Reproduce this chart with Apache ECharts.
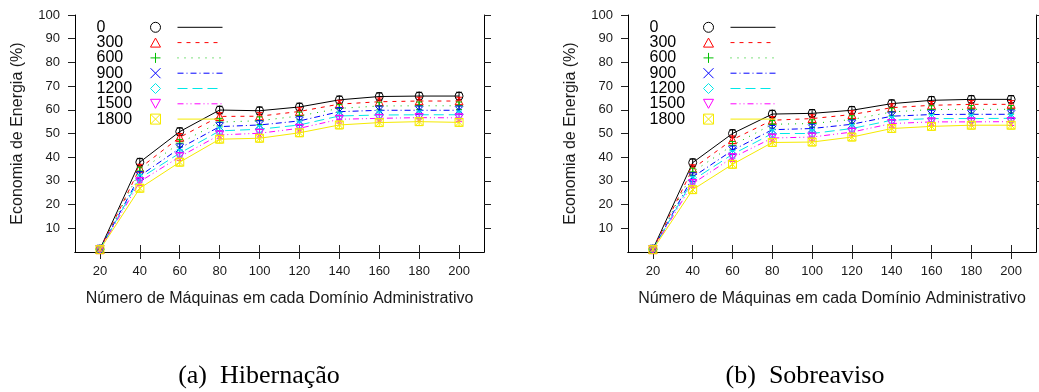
<!DOCTYPE html>
<html>
<head>
<meta charset="utf-8">
<script src="https://cdn.jsdelivr.net/npm/echarts@6/dist/echarts.min.js"></script>
<style>
html,body{margin:0;padding:0;background:#fff;}
#chart{width:1039px;height:392px;}
</style>
</head>
<body>
<div id="chart"></div>
<script>
// ---- data ----
const xValues = [20, 40, 60, 80, 100, 120, 140, 160, 180, 200];
const xTicks = [20, 40, 60, 80, 100, 120, 140, 160, 180, 200];
const yTicks = [10, 20, 30, 40, 50, 60, 70, 80, 90, 100];
const seriesNames = ['0', '300', '600', '900', '1200', '1500', '1800'];

// (a) Hibernação
const hib0    = [1.2, 37.9, 50.8, 59.9, 59.6, 61.2, 64.2, 65.6, 65.8, 65.8];
const hib300  = [1.0, 35.4, 48.4, 57.2, 57.3, 59.3, 62.4, 63.4, 63.7, 63.7];
const hib600  = [1.0, 34.2, 45.9, 54.8, 55.4, 57.4, 60.6, 61.6, 61.7, 61.7];
const hib900  = [1.0, 32.1, 43.8, 52.9, 53.6, 55.3, 59.2, 59.8, 59.8, 59.8];
const hib1200 = [1.0, 31.1, 41.7, 51.1, 51.8, 53.6, 57.4, 57.8, 57.9, 57.9];
const hib1500 = [1.0, 29.7, 40.2, 49.4, 50.1, 52.2, 56.0, 56.4, 56.7, 56.6];
const hib1800 = [1.0, 26.9, 37.9, 47.6, 48.0, 50.3, 53.6, 54.6, 55.0, 54.7];

// (b) Sobreaviso
const sob0    = [1.2, 37.7, 50.0, 58.2, 58.5, 59.8, 62.6, 64.0, 64.4, 64.4];
const sob300  = [1.0, 35.2, 47.4, 55.6, 56.3, 58.0, 60.9, 61.9, 62.3, 62.3];
const sob600  = [1.0, 33.8, 45.0, 53.9, 54.2, 55.9, 59.1, 60.1, 60.2, 60.2];
const sob900  = [1.0, 31.6, 42.9, 51.6, 52.1, 53.9, 57.3, 58.0, 58.1, 58.1];
const sob1200 = [1.0, 30.3, 41.2, 50.0, 50.0, 52.1, 55.6, 56.3, 56.3, 56.4];
const sob1500 = [1.0, 28.9, 39.8, 48.1, 48.5, 50.6, 54.2, 54.9, 54.9, 55.0];
const sob1800 = [1.0, 26.3, 37.0, 46.2, 46.4, 48.5, 52.1, 53.0, 53.5, 53.5];

// estimated error-bar half widths (per series)
const errorHalf = [1.6, 1.6, 1.6, 1.8, 1.6, 1.6, 1.6];

const xTitle = 'Número de Máquinas em cada Domínio Administrativo';
const yTitle = 'Economia de Energia (%)';
const captions = ['(a)  Hibernação', '(b)  Sobreaviso'];

// ---- styles ----
const colors = ['#000000', '#ff0000', '#00c000', '#0000ff', '#00e8e8', '#ff00ff', '#f5ea00'];
const dashes = ['solid', [4, 5], [1, 6], [6, 3, 1, 3], [10, 5], [6, 3, 1, 3, 1, 3], 'solid'];
const symbols = [
  'path://M10,5A5,5,0,1,1,0,5A5,5,0,1,1,10,5Z',
  'path://M5,0L10,9L0,9Z',
  'path://M5,0V10M0,5H10',
  'path://M0,0L10,10M10,0L0,10',
  'path://M5,0L10,5L5,10L0,5Z',
  'path://M0,0L10,0L5,9Z',
  'path://M0,0H10V10H0ZM0,0L10,10M10,0L0,10'
];
const FONT = 'Liberation Sans, Arial, Helvetica, sans-serif';

const grids = [
  {left: 75, top: 15, width: 409, height: 237},
  {left: 628, top: 15, width: 408, height: 237}
];

const chartData = [
  [hib0, hib300, hib600, hib900, hib1200, hib1500, hib1800],
  [sob0, sob300, sob600, sob900, sob1200, sob1500, sob1800]
];

function errRender(color) {
  return function (params, api) {
    const x = api.value(0), y = api.value(1), e = api.value(2);
    const lo = api.coord([x, y - e]);
    const hi = api.coord([x, y + e]);
    const w = 3;
    const st = {stroke: color, lineWidth: 1};
    return {
      type: 'group',
      children: [
        {type: 'line', shape: {x1: lo[0], y1: lo[1], x2: hi[0], y2: hi[1]}, style: st},
        {type: 'line', shape: {x1: lo[0] - w, y1: lo[1], x2: lo[0] + w, y2: lo[1]}, style: st},
        {type: 'line', shape: {x1: hi[0] - w, y1: hi[1], x2: hi[0] + w, y2: hi[1]}, style: st}
      ]
    };
  };
}

const xAxes = [], yAxes = [], series = [], legends = [];
grids.forEach((g, gi) => {
  xAxes.push({
    type: 'value', gridIndex: gi, position: 'bottom', min: 7.5, max: 212.5,
    axisLine: {show: true, lineStyle: {color: '#000', width: 1}},
    axisTick: {show: true, customValues: xTicks, length: 7, lineStyle: {color: '#222'}},
    axisLabel: {customValues: xTicks, fontSize: 13, color: '#1a1a1a', fontFamily: FONT, margin: 13},
    splitLine: {show: false},
    name: xTitle, nameLocation: 'middle', nameGap: 39,
    nameTextStyle: {fontSize: 16, color: '#1a1a1a', fontFamily: FONT}
  });
  xAxes.push({
    type: 'value', gridIndex: gi, position: 'top', min: 7.5, max: 212.5,
    axisLine: {show: true, lineStyle: {color: '#000', width: 1}},
    axisTick: {show: true, customValues: xTicks, length: 7, lineStyle: {color: '#222'}},
    axisLabel: {show: false},
    splitLine: {show: false}
  });
  yAxes.push({
    type: 'value', gridIndex: gi, position: 'left', min: 0, max: 100, interval: 10,
    axisLine: {show: true, lineStyle: {color: '#000', width: 1}},
    axisTick: {show: true, customValues: yTicks, length: 7, lineStyle: {color: '#222'}},
    axisLabel: {customValues: yTicks, fontSize: 13, color: '#1a1a1a', fontFamily: FONT, margin: 15},
    splitLine: {show: false},
    name: yTitle, nameLocation: 'middle', nameGap: 49,
    nameTextStyle: {fontSize: 16, color: '#1a1a1a', fontFamily: FONT}
  });
  yAxes.push({
    type: 'value', gridIndex: gi, position: 'right', min: 0, max: 100, interval: 10,
    axisLine: {show: true, lineStyle: {color: '#000', width: 1}},
    axisTick: {show: true, customValues: yTicks, length: 7, lineStyle: {color: '#222'}},
    axisLabel: {show: false},
    splitLine: {show: false}
  });

  seriesNames.forEach((name, si) => {
    series.push({
      type: 'line', name: name,
      xAxisIndex: gi * 2, yAxisIndex: gi * 2,
      data: xValues.map((x, i) => [x, chartData[gi][si][i]]),
      symbol: symbols[si], symbolSize: 8,
      itemStyle: {color: 'none', borderColor: colors[si], borderWidth: 1},
      lineStyle: {color: colors[si], width: 1, type: dashes[si]},
      emphasis: {disabled: true},
      animation: false, z: 2 + si
    });
  });
  seriesNames.forEach((name, si) => {
    series.push({
      type: 'custom', name: name + ' err',
      xAxisIndex: gi * 2, yAxisIndex: gi * 2,
      data: xValues.map((x, i) => [x, chartData[gi][si][i], errorHalf[si]]),
      renderItem: errRender(colors[si]),
      clip: true, silent: true, animation: false, z: 2 + si
    });
  });

  const base = g.left;
  const common = {
    orient: 'vertical', top: 19.3, padding: 0, itemGap: -0.7,
    itemHeight: 10, selectedMode: false
  };
  // text column
  legends.push(Object.assign({}, common, {
    left: base + 13, itemWidth: 1,
    textStyle: {fontSize: 16, color: '#000', fontFamily: FONT},
    data: seriesNames.map(n => ({name: n, icon: 'rect', itemStyle: {opacity: 0}}))
  }));
  // symbol column
  legends.push(Object.assign({}, common, {
    left: base + 73, itemWidth: 10,
    textStyle: {fontSize: 16, color: 'rgba(0,0,0,0)', fontFamily: FONT},
    data: seriesNames.map((n, si) => ({
      name: n, icon: symbols[si],
      itemStyle: {color: 'none', borderColor: colors[si], borderWidth: 1}
    }))
  }));
  // line sample column
  legends.push(Object.assign({}, common, {
    left: base + 102, itemWidth: 45,
    textStyle: {fontSize: 16, color: 'rgba(0,0,0,0)', fontFamily: FONT},
    data: seriesNames.map((n, si) => ({
      name: n,
      itemStyle: {opacity: 0},
      lineStyle: {color: colors[si], width: 1, type: dashes[si]}
    }))
  }));
});

const chart = echarts.init(document.getElementById('chart'), null, {renderer: 'canvas'});
chart.setOption({
  backgroundColor: '#fff',
  animation: false,
  grid: grids,
  xAxis: xAxes,
  yAxis: yAxes,
  legend: legends,
  series: series,
  graphic: captions.map((c, i) => ({
    type: 'text', silent: true,
    style: {
      text: c, font: '26px "Liberation Serif", "Times New Roman", serif',
      fill: '#000', align: 'center', verticalAlign: 'middle',
      x: i === 0 ? 259 : 805, y: 376
    }
  }))
});
</script>
</body>
</html>
